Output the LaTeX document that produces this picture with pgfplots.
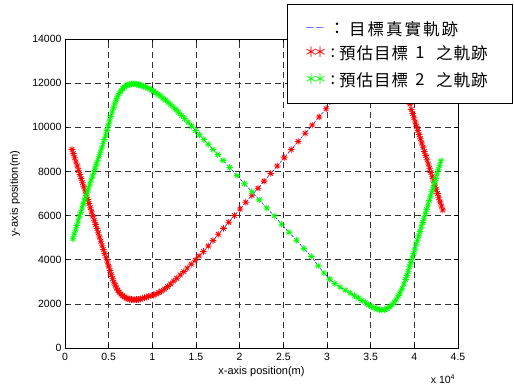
\documentclass[border=0pt]{standalone}
\usepackage{pgfplots}
\pgfplotsset{compat=1.18}
\usepackage{pgfplotstable}
\usepackage{fontspec}
\setmainfont{Liberation Sans}
\newfontfamily\cjk{Noto Sans CJK TC}
\definecolor{mred}{RGB}{255,0,0}
\definecolor{mgreen}{RGB}{0,255,0}
\definecolor{mblue}{RGB}{0,0,255}
\pgfdeclareplotmark{mstar}{%
 \pgfpathmoveto{\pgfqpoint{-\pgfplotmarksize}{0pt}}\pgfpathlineto{\pgfqpoint{\pgfplotmarksize}{0pt}}%
 \pgfpathmoveto{\pgfqpoint{0pt}{-\pgfplotmarksize}}\pgfpathlineto{\pgfqpoint{0pt}{\pgfplotmarksize}}%
 \pgfpathmoveto{\pgfqpoint{-0.7\pgfplotmarksize}{-0.7\pgfplotmarksize}}\pgfpathlineto{\pgfqpoint{0.7\pgfplotmarksize}{0.7\pgfplotmarksize}}%
 \pgfpathmoveto{\pgfqpoint{-0.7\pgfplotmarksize}{0.7\pgfplotmarksize}}\pgfpathlineto{\pgfqpoint{0.7\pgfplotmarksize}{-0.7\pgfplotmarksize}}%
 \pgfusepathqstroke}

% target 1 trajectory (estimated, red)
\pgfplotstableread{
x y
800 9000
950 8810
1100 8620
1250 8430
1400 8245
1550 8055
1700 7865
1850 7675
2000 7490
2150 7300
2300 7110
2450 6920
2600 6730
2750 6545
2900 6355
3050 6165
3200 5975
3350 5785
3500 5600
3650 5410
3800 5220
3950 5030
4100 4840
4250 4655
4400 4465
4550 4275
4700 4085
4850 3895
5000 3710
5150 3510
5300 3320
5450 3140
5600 2980
5750 2840
5900 2720
6050 2620
6200 2530
6400 2440
6600 2370
6800 2310
7000 2265
7200 2235
7400 2210
7600 2195
7800 2190
8000 2190
8200 2195
8400 2205
8600 2220
8850 2245
9100 2275
9350 2310
9600 2345
9850 2370
10150 2400
10450 2450
10750 2510
11050 2580
11400 2670
11750 2780
12100 2900
12450 3030
12800 3160
13200 3310
13600 3460
14000 3620
14450 3800
14900 3980
15350 4170
15850 4370
16400 4620
16950 4870
17550 5150
18150 5420
18750 5700
19400 6000
20050 6300
20700 6600
21400 6920
22100 7240
22800 7560
23550 7910
24300 8250
25100 8620
25900 8990
26700 9360
27500 9730
28300 10100
29100 10470
29900 10840
30700 11200
31500 11560
32300 11900
33100 12220
33900 12500
34700 12730
35500 12880
36200 12920
36900 12850
37500 12680
38000 12430
38500 12100
38900 11780
39250 11400
39500 11050
39650 10810
39800 10620
39950 10430
40100 10240
40250 10050
40400 9860
40550 9670
40700 9480
40850 9290
41000 9100
41150 8905
41300 8715
41450 8525
41600 8335
41750 8145
41900 7950
42050 7760
42200 7570
42350 7380
42500 7190
42650 7000
42800 6810
42950 6620
43100 6430
43250 6250
}\tabA

% target 2 trajectory (estimated, green)
\pgfplotstableread{
x y
900 4950
1050 5150
1200 5350
1350 5550
1500 5750
1650 5950
1800 6150
1950 6340
2100 6530
2250 6710
2400 6890
2550 7070
2700 7250
2850 7430
3000 7610
3150 7790
3300 7970
3450 8150
3600 8330
3750 8510
3900 8690
4050 8870
4200 9060
4350 9250
4500 9450
4650 9650
4800 9860
4950 10070
5100 10280
5250 10490
5400 10690
5550 10880
5700 11060
5850 11230
6000 11380
6200 11530
6400 11650
6600 11750
6800 11830
7000 11880
7200 11920
7400 11950
7600 11960
7800 11965
8000 11960
8200 11950
8400 11935
8600 11915
8800 11890
9000 11860
9200 11825
9400 11790
9650 11740
9900 11685
10150 11625
10400 11560
10650 11490
10900 11415
11200 11325
11500 11230
11800 11130
12100 11025
12400 10915
12700 10800
13000 10680
13350 10540
13700 10395
14100 10225
14500 10050
14950 9855
15400 9660
15900 9445
16400 9230
16950 8995
17500 8760
18100 8500
18850 8180
19700 7810
20550 7445
21400 7080
22250 6710
23100 6345
23950 5980
24800 5610
25650 5245
26500 4880
27350 4510
28200 4150
29000 3720
29650 3400
30300 3120
30900 2920
31500 2760
32100 2620
32650 2490
33150 2370
33600 2260
34000 2150
34400 2050
34750 1960
35100 1880
35400 1820
35700 1770
36000 1735
36300 1720
36600 1740
36900 1790
37200 1870
37450 1960
37700 2080
37950 2220
38200 2380
38400 2540
38600 2710
38800 2900
39000 3100
39150 3290
39300 3480
39450 3680
39600 3880
39750 4080
39900 4280
40050 4480
40200 4680
40350 4880
40500 5080
40650 5280
40800 5480
40950 5680
41100 5880
41250 6080
41400 6280
41550 6480
41700 6680
41850 6880
42000 7080
42150 7280
42300 7480
42450 7680
42600 7880
42750 8080
42900 8280
43050 8480
}\tabB

\begin{document}
\begin{tikzpicture}
\begin{axis}[
  scale only axis,
  width=393pt, height=309pt,
  xmin=0, xmax=45000, ymin=0, ymax=14000,
  xtick={0,5000,10000,15000,20000,25000,30000,35000,40000,45000},
  xticklabels={0,0.5,1,1.5,2,2.5,3,3.5,4,4.5},
  ytick={0,2000,4000,6000,8000,10000,12000,14000},
  scaled x ticks=false, scaled y ticks=false,
  /pgf/number format/1000 sep={},
  /pgf/number format/assume math mode=true,
  tick label style={font=\fontsize{10.5}{12}\selectfont},
  x tick label style={yshift=-1.5pt},
  label style={font=\fontsize{11}{13}\selectfont},
  xlabel={x-axis position(m)},
  ylabel={y-axis position(m)},
  xlabel style={at={(axis description cs:0.5,-0.0777)}, anchor=center},
  ylabel style={at={(axis description cs:-0.127,0.5)}, anchor=center},
  grid=major,
  major grid style={black!80, dash pattern=on 6pt off 4pt, line width=0.5pt},
  axis line style={line width=0.8pt},
  tick style={black, line width=0.6pt},
  major tick length=3.5pt,
  tick align=inside,
  xtick pos=both, ytick pos=both,
]
\addplot[mblue, line width=0.5pt, dash pattern=on 2.5pt off 1.5pt] table[x=x,y=y] {\tabA};
\addplot[mblue, line width=0.5pt, dash pattern=on 2.5pt off 1.5pt] table[x=x,y=y] {\tabB};
\addplot[only marks, mark=mstar, mark size=3.3pt, mark options={mred, line width=0.8pt}] table[x=x,y=y] {\tabA};
\addplot[only marks, mark=mstar, mark size=3.3pt, mark options={mgreen, line width=0.8pt}] table[x=x,y=y] {\tabB};
\coordinate (LL) at (rel axis cs:0,0);
\end{axis}
\pgfresetboundingbox
\begin{scope}[shift={(LL)}, x=1pt, y=1pt]
\useasboundingbox (-65,-39) rectangle (449,348);
\node[font=\fontsize{10.5}{12}\selectfont] at (378,-31) {x 10\textsuperscript{\scriptsize 4}};
% legend
\draw[fill=white, line width=1pt] (222,244) rectangle (447,343);
\node[anchor=west, inner sep=0pt, font=\fontsize{14}{14}\selectfont] at (241,319) {\textcolor{mblue!55}{\textendash\hspace{2pt}\textendash}};
\node[inner sep=0pt, font=\cjk\fontsize{16.5}{18}\selectfont] at (272,319) {：};
\node[anchor=west, inner sep=0pt, font=\cjk\fontsize{16.5}{18}\selectfont] at (284,319) {目\hspace{2pt}標\hspace{2pt}真\hspace{2pt}實\hspace{2pt}軌\hspace{2pt}跡};
% row 2
\node[anchor=west, inner sep=0pt, font=\cjk\fontsize{14}{14}\selectfont] at (239,296) {\textcolor{mred}{＊\hspace{-5pt}＊}};
\node[inner sep=0pt, font=\cjk\fontsize{16.5}{18}\selectfont] at (268,295) {:};
\node[anchor=west, inner sep=0pt, font=\cjk\fontsize{16.5}{18}\selectfont] at (274,295) {預\hspace{1pt}估\hspace{1pt}目\hspace{1pt}標};
\node[inner sep=0pt, font=\cjk\fontsize{16.5}{18}\selectfont] at (355,295) {1};
\node[anchor=west, inner sep=0pt, font=\cjk\fontsize{16.5}{18}\selectfont] at (371,295) {之\hspace{1pt}軌\hspace{1pt}跡};
% row 3
\node[anchor=west, inner sep=0pt, font=\cjk\fontsize{14}{14}\selectfont] at (239,269) {\textcolor{mgreen}{＊\hspace{-5pt}＊}};
\node[inner sep=0pt, font=\cjk\fontsize{16.5}{18}\selectfont] at (268,268) {:};
\node[anchor=west, inner sep=0pt, font=\cjk\fontsize{16.5}{18}\selectfont] at (274,268) {預\hspace{1pt}估\hspace{1pt}目\hspace{1pt}標};
\node[inner sep=0pt, font=\cjk\fontsize{16.5}{18}\selectfont] at (355,268) {2};
\node[anchor=west, inner sep=0pt, font=\cjk\fontsize{16.5}{18}\selectfont] at (371,268) {之\hspace{1pt}軌\hspace{1pt}跡};
\end{scope}
\end{tikzpicture}
\end{document}
